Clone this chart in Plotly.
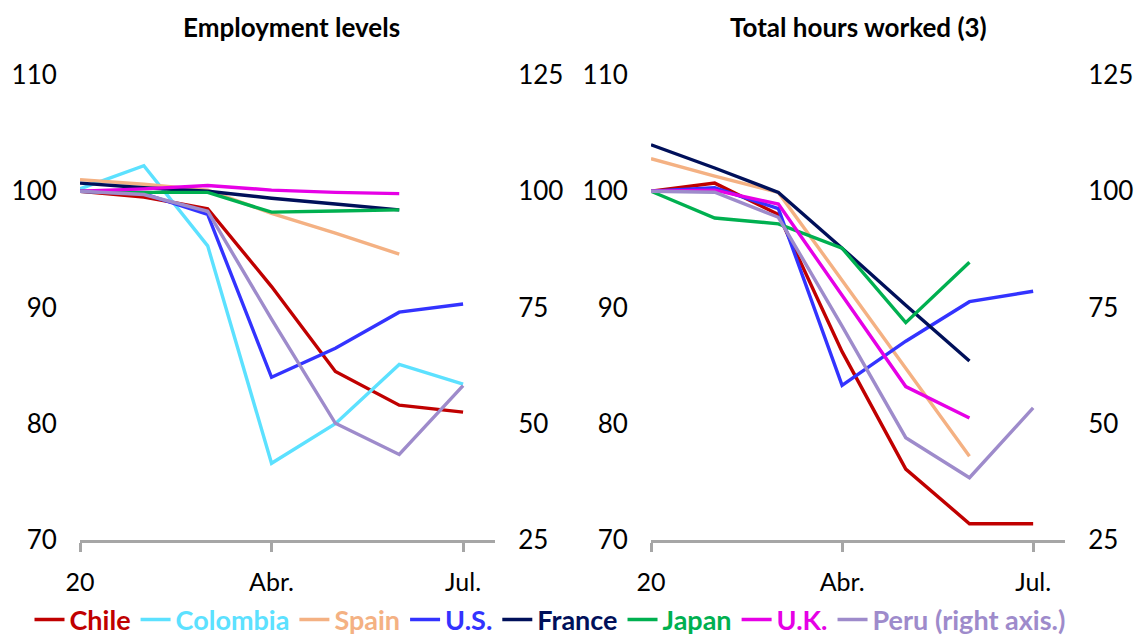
import plotly.graph_objects as go

# x positions: 7 periods, only three labelled on the axis
periods = ["20", "", "", "Abr.", "", "", "Jul."]

countries = ["Chile", "Colombia", "Spain", "U.S.", "France", "Japan", "U.K.", "Peru"]

# Employment levels (index, left axis; Peru on right axis)
emp_chile = [100, 99.5, 98.5, 91.8, 84.5, 81.6, 81.0]
emp_colombia = [100.2, 102.2, 95.3, 76.6, 80.0, 85.1, 83.4]
emp_spain = [101.0, 100.6, 100.1, 98.1, 96.4, 94.6, None]
emp_us = [100, 99.8, 98.0, 84.0, 86.5, 89.6, 90.3]
emp_france = [100.7, 100.3, 100.0, 99.4, 98.9, 98.4, None]
emp_japan = [100, 99.9, 99.9, 98.2, 98.3, 98.4, None]
emp_uk = [100.0, 100.2, 100.5, 100.1, 99.9, 99.8, None]
emp_peru = [100, 99.3, 95.7, 72.5, 50.1, 43.4, 58.2]

# Total hours worked (index, left axis; Peru on right axis)
hrs_chile = [100, 100.7, 98.0, 86.2, 76.1, 71.4, 71.4]
hrs_colombia = [None] * 7
hrs_spain = [102.8, 101.3, 99.9, 92.3, 84.7, 77.2, None]
hrs_us = [100, 100.3, 98.5, 83.3, 87.1, 90.5, 91.4]
hrs_france = [104.0, 102.0, 99.9, 95.1, 90.2, 85.4, None]
hrs_japan = [100, 97.7, 97.2, 95.1, 88.7, 93.9, None]
hrs_uk = [100, 100.1, 98.9, 91.1, 83.2, 80.5, None]
hrs_peru = [100, 99.8, 94.4, 71.0, 47.0, 38.4, 53.4]

COLORS = {
    "Chile": "#C00000",
    "Colombia": "#5CE1FF",
    "Spain": "#F4B183",
    "U.S.": "#3333FF",
    "France": "#00105A",
    "Japan": "#00B050",
    "U.K.": "#E600E6",
    "Peru": "#9E8BCB",
}

emp = dict(zip(countries, [emp_chile, emp_colombia, emp_spain, emp_us,
                           emp_france, emp_japan, emp_uk, emp_peru]))
hrs = dict(zip(countries, [hrs_chile, hrs_colombia, hrs_spain, hrs_us,
                           hrs_france, hrs_japan, hrs_uk, hrs_peru]))

x_idx = list(range(len(periods)))
tick_vals = [i for i, p in enumerate(periods) if p]
tick_text = [p for p in periods if p]

FONT = "Lato, 'Open Sans', sans-serif"

# page body has an 8px margin, so the figure is shrunk by that much
OFF = 8
W, H = 1146 - OFF, 637 - OFF

fig = go.Figure()

for panel, data, xa, ya_left, ya_right in [
    (0, emp, "x", "y", "y2"),
    (1, hrs, "x2", "y3", "y4"),
]:
    for c in countries:
        label = "Peru (right axis.)" if c == "Peru" else c
        fig.add_trace(go.Scatter(
            x=x_idx,
            y=data[c],
            name=f"<b><span style='color:{COLORS[c]}'>{label}</span></b>",
            mode="lines",
            line=dict(color=COLORS[c], width=3.4),
            xaxis=xa,
            yaxis=ya_right if c == "Peru" else ya_left,
            legendgroup=c,
            showlegend=(panel == 0),
            connectgaps=False,
        ))

xaxis_style = dict(
    range=[0, 6.5],
    tickvals=tick_vals,
    ticktext=tick_text,
    showline=True,
    linecolor="#A6A6A6",
    linewidth=3,
    ticks="outside",
    tickcolor="#A6A6A6",
    tickwidth=3,
    ticklen=9,
    ticklabelstandoff=9,
    showgrid=False,
    zeroline=False,
    automargin=False,
    tickfont=dict(size=25, color="#000000"),
)
left_y = dict(range=[70, 110], dtick=10, showgrid=False, zeroline=False,
              showline=False, ticks="outside", ticklen=17, automargin=False,
              tickcolor="rgba(0,0,0,0)", tickfont=dict(size=26, color="#000000"))
right_y = dict(range=[25, 125], dtick=25, showgrid=False, zeroline=False,
               showline=False, ticks="outside", ticklen=17, side="right",
               automargin=False,
               tickcolor="rgba(0,0,0,0)", tickfont=dict(size=26, color="#000000"))

fig.update_layout(
    width=W,
    height=H,
    paper_bgcolor="white",
    plot_bgcolor="white",
    font=dict(family=FONT, color="#000000"),
    margin=dict(l=0, r=0, t=75 - OFF, b=97, autoexpand=False),
    xaxis=dict(domain=[(80 - OFF) / W, (495 - OFF) / W], anchor="y", **xaxis_style),
    xaxis2=dict(domain=[(651 - OFF) / W, (1065 - OFF) / W], anchor="y3", **xaxis_style),
    yaxis=dict(anchor="x", **left_y),
    yaxis2=dict(anchor="x", overlaying="y", **right_y),
    yaxis3=dict(anchor="x2", **left_y),
    yaxis4=dict(anchor="x2", overlaying="y3", **right_y),
    legend=dict(
        orientation="h",
        x=(550 - OFF) / W,
        xanchor="center",
        y=-0.172,
        yanchor="middle",
        font=dict(size=27, family=FONT),
        itemwidth=30,
        tracegroupgap=0,
        bgcolor="rgba(0,0,0,0)",
    ),
    showlegend=True,
)

# titles sit just under the top edge of the figure
title_top = 1 + (75 - OFF - 1) / 465
for x_center, title in [(291, "Employment levels"),
                        (858, "Total hours worked (3)")]:
    fig.add_annotation(
        x=(x_center - OFF) / W, y=title_top, xref="paper", yref="paper",
        text=f"<b>{title}</b>", showarrow=False,
        font=dict(size=26, family=FONT, color="#000000"),
        xanchor="center", yanchor="top",
    )

fig.write_html("out.html")
